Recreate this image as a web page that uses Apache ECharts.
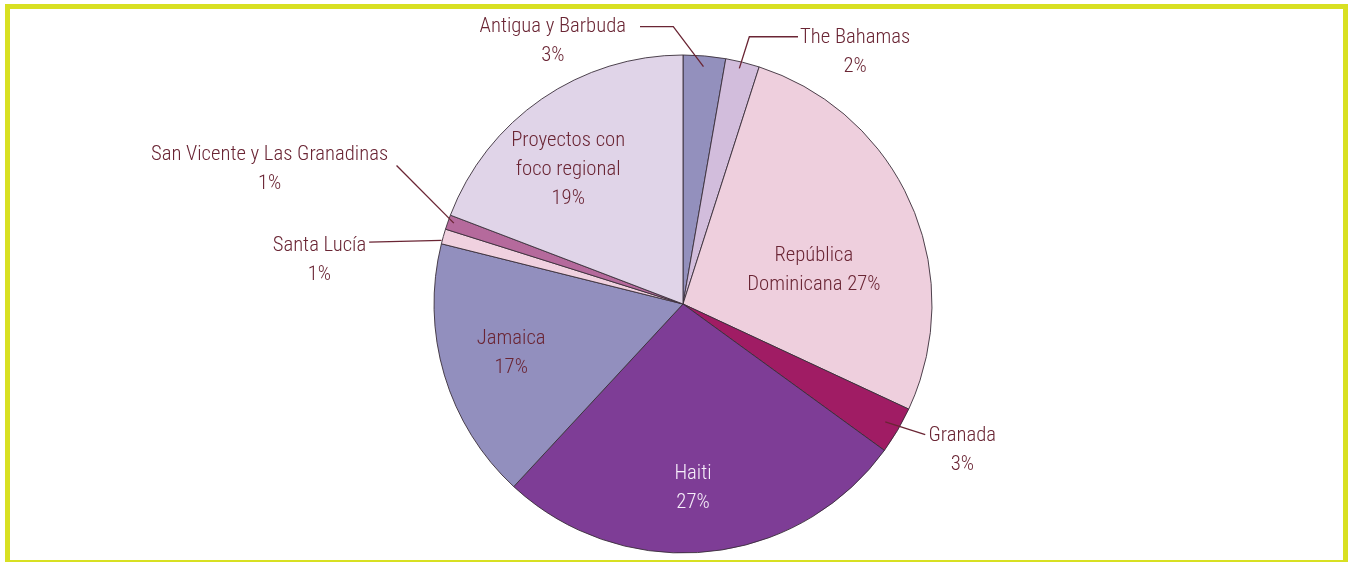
<!DOCTYPE html>
<html><head><meta charset="utf-8">
<script src="https://cdn.jsdelivr.net/npm/echarts@6/dist/echarts.min.js"></script>
<style>html,body{margin:0;padding:0;background:#fff}#c{width:1348px;height:562px}</style>
</head><body><div id="c"></div>
<script>
// ---- data ----
const categories = ['Antigua y Barbuda','The Bahamas','República Dominicana','Granada','Haiti','Jamaica','Santa Lucía','San Vicente y Las Granadinas','Proyectos con foco regional'];
const shares = [2.75, 2.2, 27.0, 3.07, 26.9, 17.0, 0.97, 0.95, 19.2];
const labelNames = ['Antigua y Barbuda','The Bahamas','República\nDominicana','Granada','Haiti','Jamaica','Santa Lucía','San Vicente y Las Granadinas','Proyectos con\nfoco regional'];
const pctSeparator = ['\n','\n',' ','\n','\n','\n','\n','\n','\n'];

// ---- style ----
const colors = ['#9390bd','#d2bddc','#eecfdd','#a01c64','#7e3d96','#928fbe','#f0d1df','#b56a9c','#e0d4e8'];
const textColor = '#6a2534';
function pickFont(list){
  const c = document.createElement('canvas').getContext('2d');
  const t = 'Dominicana 27% Abgy';
  c.font = '100px monospace'; const m = c.measureText(t).width;
  c.font = '100px serif'; const s = c.measureText(t).width;
  for (const f of list) {
    c.font = '100px "' + f + '",monospace'; const w1 = c.measureText(t).width;
    c.font = '100px "' + f + '",serif'; const w2 = c.measureText(t).width;
    if (w1 !== m && w2 !== s) return f;
  }
  return 'sans-serif';
}
const FONT = pickFont(['Liberation Sans Narrow','Arial Narrow','Roboto Condensed','DejaVu Sans Condensed','Open Sans Condensed','Nimbus Sans Narrow','Roboto','Liberation Sans']);
const FONT_SIZE = (function(){
  const c = document.createElement('canvas').getContext('2d');
  c.font = '100px "' + FONT + '"';
  const w = c.measureText('Dominicana 27%').width;
  return Math.min(22, 100 * 135 / w);
})();
const CX = 683, CY = 304, R = 249, LH = 29;
const insideOffset = {2:[14,17.3], 4:[-2.4,57.1], 5:[-49.6,12.9], 8:[-42.5,-29.4]};
const outsideCfg = {
  0:{s:[-1,10.7], pts:[[-30.2,-40],[-63.5,-40]], side:'L', gap:14, dy:0},
  1:{s:[-3.3,6.1], pts:[[10,-31.6],[58.7,-31.6]], side:'R', gap:2, dy:1.2},
  3:{s:[-12.3,-8.5], pts:[[40,12.7]], side:'R', gap:3.3, dy:1.6},
  6:{s:[-1.8,4], pts:[[-72.4,1.7]], side:'L', gap:3, dy:3.3},
  7:{s:[6,1], pts:[[-57.3,-57.7]], side:'L', gap:8.4, dy:-10.2}
};
const total = shares.reduce((a,b)=>a+b,0);
const midAngle = [];
{ let acc = 0; shares.forEach(v => { midAngle.push((acc + v/2)/total*2*Math.PI); acc += v; }); }

const baseData = categories.map((name,i) => ({name, value: shares[i], itemStyle:{color: colors[i]}}));
const labelData = categories.map((name,i) => {
  const inside = insideOffset[i] !== undefined;
  return {
    name, value: shares[i],
    label: {position: inside ? 'inside' : 'outside', color: i === 4 ? '#f6eefa' : textColor},
    labelLine: {show: !inside}
  };
});

const chart = echarts.init(document.getElementById('c'), null, {renderer:'canvas'});
chart.setOption({
  animation: false,
  backgroundColor: '#ffffff',
  graphic: [{type:'rect', shape:{x:7.5, y:6.5, width:1338, height:556}, style:{fill:null, stroke:'#d8e022', lineWidth:5}, silent:true, z:100}],
  series: [{
    type: 'pie',
    center: [CX, CY],
    radius: R,
    startAngle: 90,
    clockwise: true,
    data: baseData,
    itemStyle: {borderColor:'#3a2f3a', borderWidth:0.9},
    label: {show:false},
    labelLine: {show:false},
    silent: true
  }, {
    type: 'pie',
    z: 5,
    center: [CX, CY],
    radius: R,
    startAngle: 90,
    clockwise: true,
    avoidLabelOverlap: false,
    silent: true,
    data: labelData,
    itemStyle: {color:'rgba(0,0,0,0)', borderWidth:0},
    label: {
      fontFamily: FONT, fontSize: FONT_SIZE, fontWeight: 300, lineHeight: LH, color: textColor,
      formatter: p => labelNames[p.dataIndex] + pctSeparator[p.dataIndex] + Math.round(p.percent) + '%'
    },
    labelLine: {lineStyle:{color:textColor, width:1.3}, length:15, length2:15},
    labelLayout: function(params){
      const i = params.dataIndex;
      const r = params.labelRect;
      if (insideOffset[i]) {
        const o = insideOffset[i];
        return {x: r.x + r.width/2 + o[0], y: r.y + r.height/2 + o[1], align:'center', verticalAlign:'middle'};
      }
      const c = outsideCfg[i];
      if (!c) return {};
      const a = midAngle[i];
      const p0 = [CX + R*Math.sin(a), CY - R*Math.cos(a)];
      const S = [p0[0] + c.s[0], p0[1] + c.s[1]];
      const pts = [S].concat(c.pts.map(d => [S[0]+d[0], S[1]+d[1]]));
      const E = pts[pts.length-1];
      const nLines = (labelNames[i] + pctSeparator[i]).split('\n').length;
      const y = E[1] + c.dy + (nLines-1)*LH/2;
      const x = c.side === 'L' ? E[0] - c.gap - r.width/2 : E[0] + c.gap + r.width/2;
      return {x, y, align:'center', verticalAlign:'middle', labelLinePoints: pts};
    }
  }]
});
</script></body></html>
